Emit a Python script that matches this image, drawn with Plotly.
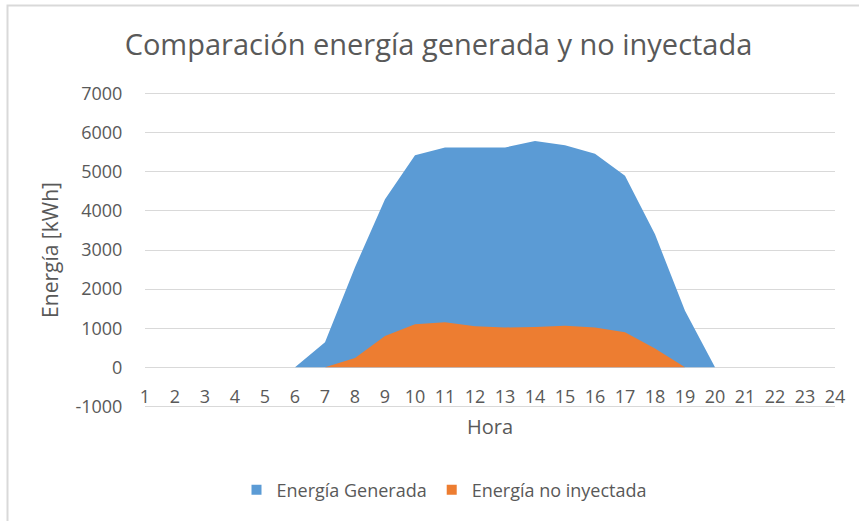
import plotly.graph_objects as go

horas = list(range(1, 25))
energia_generada = [0, 0, 0, 0, 0, 0, 640, 2560, 4300, 5420, 5620, 5620,
                    5620, 5790, 5680, 5460, 4900, 3400, 1445, 0, 0, 0, 0, 0]
energia_no_inyectada = [0, 0, 0, 0, 0, 0, 0, 240, 800, 1100, 1150, 1050,
                        1020, 1030, 1060, 1020, 900, 480, 0, 0, 0, 0, 0, 0]
y_ticks = list(range(-1000, 8000, 1000))
y_ticktext = [str(v) for v in y_ticks]

FONT = "Open Sans"
TXT = "#595959"
BLUE = "#5B9BD5"
ORANGE = "#ED7D31"

fig = go.Figure()
fig.add_trace(go.Scatter(x=horas, y=energia_generada, mode="lines", fill="tozeroy",
                         fillcolor=BLUE, line=dict(width=0, color=BLUE),
                         name="Energía Generada", showlegend=False, hoverinfo="skip"))
fig.add_trace(go.Scatter(x=horas, y=energia_no_inyectada, mode="lines", fill="tozeroy",
                         fillcolor=ORANGE, line=dict(width=0, color=ORANGE),
                         name="Energía no inyectada", showlegend=False, hoverinfo="skip"))
# legend entries
fig.add_trace(go.Scatter(x=[None], y=[None], mode="markers", name="Energía Generada",
                         marker=dict(symbol="square", size=10, color=BLUE)))
fig.add_trace(go.Scatter(x=[None], y=[None], mode="markers", name="Energía no inyectada",
                         marker=dict(symbol="square", size=10, color=ORANGE)))

W, H = 859, 521
Y0_PX, Y1_PX = 406.5, 94.0          # pixel rows of -1000 and 7000
pad = 40                            # small range padding so edge gridlines show
upp = (Y0_PX - Y1_PX) / 8000        # px per unit
L, R = 145, 24
T = Y1_PX - pad * upp
B = H - Y0_PX - pad * upp
pw = W - L - R
ph = H - T - B
ymin, ymax = -1000 - pad, 7000 + pad


def px(xp):
    return (xp - L) / pw


def py(yp):
    return (H - B - yp) / ph


zero_pos = (0 - ymin) / (ymax - ymin)

fig.update_layout(
    width=W, height=H,
    margin=dict(l=L, r=R, t=T, b=B),
    paper_bgcolor="white", plot_bgcolor="white",
    font=dict(family=FONT, color=TXT, size=18),
    title=dict(text="Comparación energía generada y no inyectada",
               font=dict(size=29, color=TXT, family=FONT),
               x=px(438.5), xref="paper", xanchor="center",
               y=1 - 45 / H, yref="container", yanchor="middle"),
    showlegend=True,
    legend=dict(orientation="h", x=px(444.5), xanchor="center",
                y=py(490), yanchor="middle", font=dict(size=18, color=TXT),
                itemwidth=30, bgcolor="rgba(0,0,0,0)"),
    xaxis=dict(range=[1, 24], tickvals=horas, ticktext=[str(h) for h in horas],
               showgrid=False, zeroline=False, showline=False,
               anchor="free", position=zero_pos,
               ticks="outside", ticklen=13, tickcolor="rgba(0,0,0,0)",
               tickfont=dict(size=18, color=TXT),
               title=dict(text="Hora", font=dict(size=20, color=TXT), standoff=13)),
    yaxis=dict(range=[ymin, ymax], tickvals=y_ticks, ticktext=y_ticktext,
               showgrid=True, gridcolor="#D9D9D9", gridwidth=1,
               zeroline=False, showline=False,
               ticks="outside", ticklen=18, tickcolor="rgba(0,0,0,0)",
               tickfont=dict(size=18, color=TXT),
               title=dict(text="Energía [kWh]", font=dict(size=21, color=TXT), standoff=11)),
    shapes=[dict(type="rect", xref="paper", yref="paper",
                 x0=px(7.5), x1=px(900), y0=py(560), y1=py(6),
                 line=dict(color="#D9D9D9", width=2), fillcolor="rgba(0,0,0,0)",
                 layer="below")],
)

fig.write_html("out.html", config={"displayModeBar": False},
               post_script="document.body.style.margin='0';")
